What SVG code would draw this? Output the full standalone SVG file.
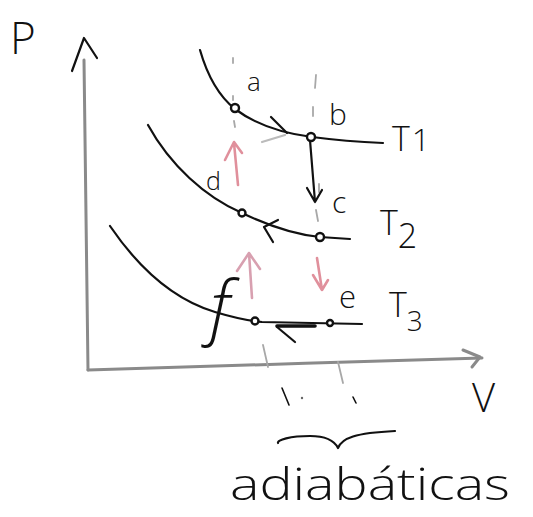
<svg xmlns="http://www.w3.org/2000/svg" width="533" height="517" viewBox="0 0 533 517">
<style>
.ln{fill:none;stroke:#111;stroke-width:2.2;stroke-linecap:round;stroke-linejoin:round}
.ax{fill:none;stroke:#8a8a8a;stroke-width:3;stroke-linecap:round;stroke-linejoin:round}
.pk{fill:none;stroke:#e0909c;stroke-width:2.6;stroke-linecap:round;stroke-linejoin:round}
.dash{fill:none;stroke:#a8a8a8;stroke-width:1.8;stroke-linecap:round}
.pt{fill:#fff;stroke:#111;stroke-width:2.4}
.t{font-family:"Open Sans","DejaVu Sans",sans-serif;font-weight:300;fill:#111}
</style>
<rect width="533" height="517" fill="#fff"/>
<g id="axes">
<path class="ax" d="M84,60 C86,150 87,260 88,370"/>
<path class="ln" d="M72,71 L84,38 L97,58"/>
<path class="ax" d="M88,370 C200,366 360,362 482,358"/>
<path class="ax" d="M463,350 L480,357 L472,367"/>
<text class="t" x="10" y="54" font-size="44">P</text>
<text class="t" x="472" y="412" font-size="40">V</text>
</g>
<g id="adiabatic-guides">
<path class="dash" d="M233,58 L233,63 M233,96 L233,100 M234,121 L235,127 M316,75 L315,88 M313,107 L313,116 M319,184 L319,192 M316,210 L318,221 M263,345 L268,367 M338,362 L343,383"/>
<path class="ln" style="stroke-width:1.6" d="M282,388 L289,405 M353,397 L356,403"/>
<circle cx="302" cy="398" r="1.2" fill="#666"/>
</g>
<g id="isotherm-T1">
<path class="ln" d="M200,50 C208,78 220,97 235,109 C255,124 280,133 312,137 C335,140 360,142 383,143"/>
<path class="ln" d="M271,117 L287,133"/>
<path class="ln" style="stroke:#bbb" d="M262,142 L285,135"/>
<text class="t" x="392" y="151" font-size="34">T<tspan font-size="32" dx="2">1</tspan></text>
</g>
<g id="isotherm-T2">
<path class="ln" d="M148,125 C170,165 205,197 242,213 C265,224 290,234 320,237 L350,239"/>
<path class="ln" d="M278,220 L264,227 L273,242"/>
<text class="t" x="380" y="235" font-size="34">T<tspan font-size="34" dy="13">2</tspan></text>
</g>
<g id="isotherm-T3">
<path class="ln" d="M110,226 C140,270 175,300 215,312 C235,318 250,321 262,322 L362,324"/>
<path class="ln" d="M277,327 L295,342"/>
<path class="ln" style="stroke-width:3.6" d="M277,326 L315,326"/>
<text class="t" x="389" y="317" font-size="34">T<tspan font-size="28" dy="14">3</tspan></text>
</g>
<g id="process-arrows">
<path class="ln" d="M310,140 L315,202 M307,188 L315,202 L322,190"/>
<path class="pk" d="M238,185 L234,143 M225,160 L234,142 L242,153"/>
<path class="pk" style="stroke:#d8a0b0" d="M252,298 L249,253 M237,271 L249,253 L260,269"/>
<path class="pk" d="M317,258 L322,290 M313,275 L322,290 L328,280"/>
</g>
<g id="point-a"><circle class="pt" cx="235" cy="108" r="4"/><text class="t" x="247" y="91" font-size="26">a</text></g>
<g id="point-b"><circle class="pt" cx="311" cy="137" r="4"/><text class="t" x="329" y="125" font-size="30">b</text></g>
<g id="point-c"><circle class="pt" cx="320" cy="237" r="4"/><text class="t" x="332" y="213" font-size="30">c</text></g>
<g id="point-d"><circle class="pt" cx="242" cy="213" r="3.5"/><text class="t" x="206" y="190" font-size="25">d</text></g>
<g id="point-f"><circle class="pt" cx="255" cy="321" r="3.5"/><text class="t" x="210" y="332" font-size="70" font-style="italic">f</text></g>
<g id="point-e"><circle class="pt" cx="330" cy="323" r="3"/><text class="t" x="339" y="308" font-size="31">e</text></g>
<g id="brace">
<path class="ln" d="M278,443 C277,440 290,436 310,436 C325,436 334,440 338,448 C342,438 355,433 395,431"/>
<text class="t" x="230" y="500" font-size="44" textLength="280" lengthAdjust="spacingAndGlyphs">adiabáticas</text>
</g>
</svg>
